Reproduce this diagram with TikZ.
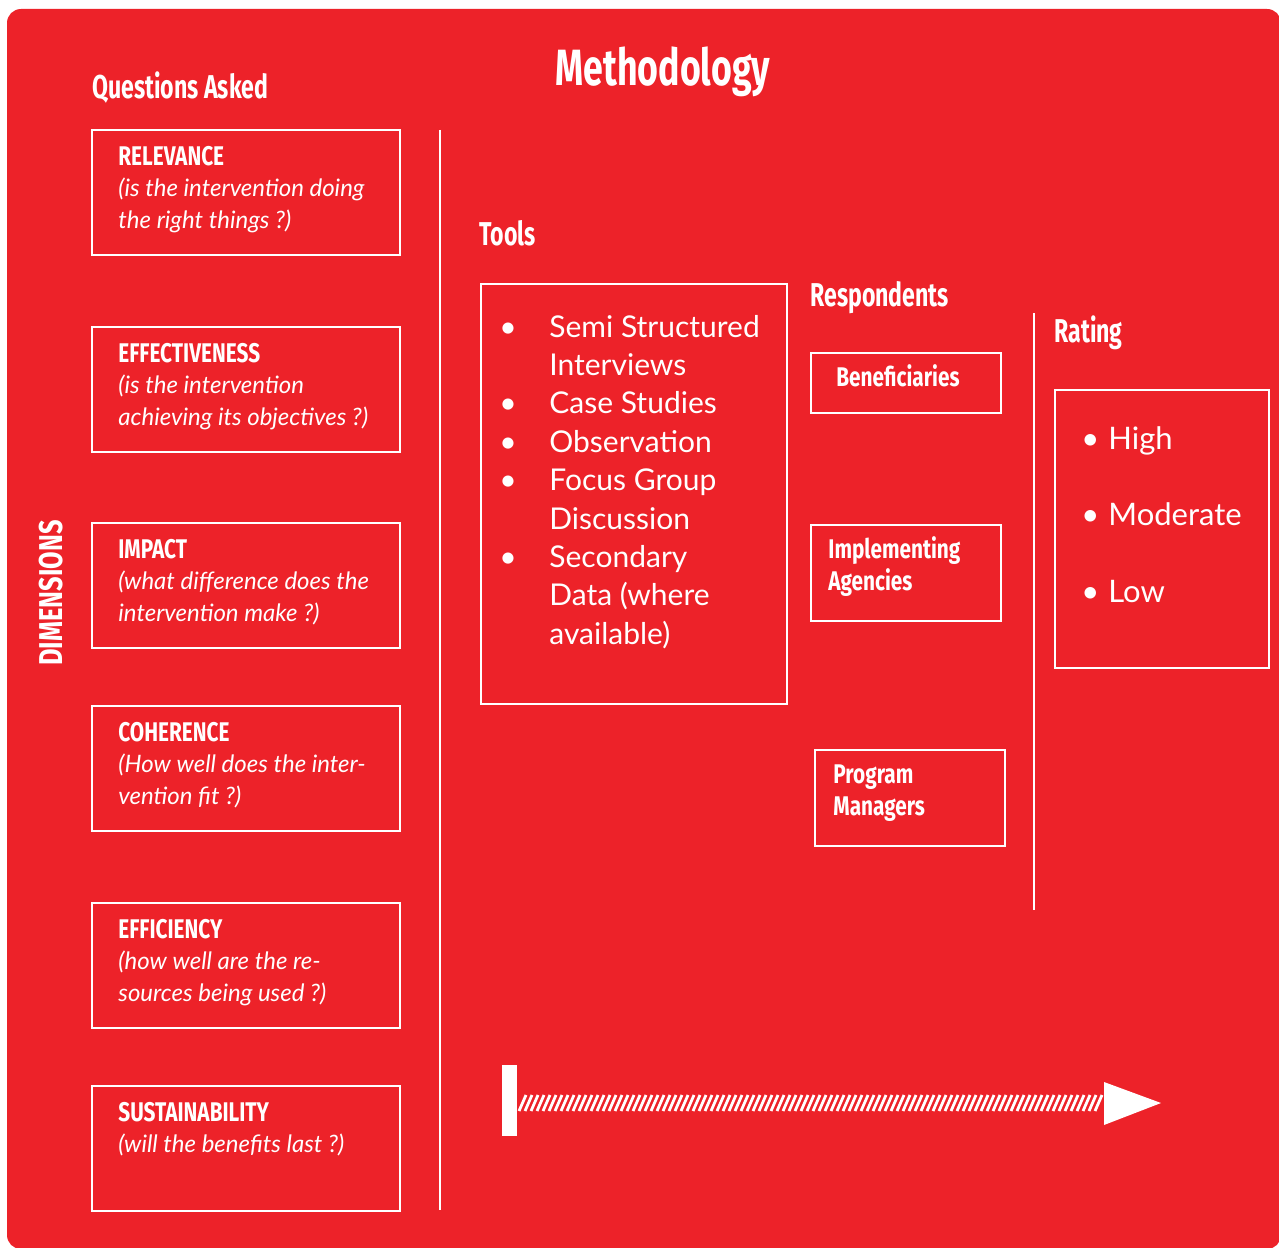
\documentclass[tikz,border=0pt]{standalone}
\usepackage{fontspec}
\usepackage{tikz}
\setmainfont{Lato}
\newfontfamily\headfont[FakeStretch=0.7]{Fira Sans}
\newfontfamily\titlefont[FakeStretch=0.77]{Fira Sans}
\usetikzlibrary{calc}
\definecolor{methred}{RGB}{237,34,41}

\tikzset{
  wbox/.style={draw=white, line width=1pt},
  wline/.style={draw=white, line width=1.3pt},
  head/.style={text=white, inner sep=0pt, anchor=base west, font=\headfont\bfseries\fontsize{16.5}{18}\selectfont},
  dimtitle/.style={text=white, inner sep=0pt, anchor=base west, font=\titlefont\bfseries\fontsize{13.5}{15}\selectfont},
  dimtext/.style={text=white, inner sep=0pt, anchor=base west, font=\itshape\fontsize{12}{14}\selectfont},
  resptext/.style={text=white, inner sep=0pt, anchor=base west, font=\titlefont\bfseries\fontsize{13.5}{15}\selectfont},
  tooltext/.style={text=white, inner sep=0pt, anchor=base west, font=\fontsize{15}{18}\selectfont},
}

\begin{document}
\begin{tikzpicture}[x=0.5pt, y=-0.5pt]
        \useasboundingbox (0,0) rectangle (1279,1247);
        \fill[methred, rounded corners=7pt] (7,9) rectangle (1281,1249);

        \node[head, anchor=base, font=\headfont\bfseries\fontsize{25.5}{28}\selectfont] (title) at (663,86) {Methodology};
        \node[head] (questions) at (92,98) {Questions Asked};
        \node[head, rotate=90, anchor=base, font=\titlefont\bfseries\fontsize{16.5}{18}\selectfont] (dimensions) at (62,593) {DIMENSIONS};

        \foreach \y/\name/\ttl/\la/\lb in {
            130/relevance/RELEVANCE/{(is the intervention doing}/{the right things ?)},
            327/effectiveness/EFFECTIVENESS/{(is the intervention}/{achieving its objectives ?)},
            523/impact/IMPACT/{(what difference does the}/{intervention make ?)},
            706/coherence/COHERENCE/{(How well does the inter-}/{vention fit ?)},
            903/efficiency/EFFICIENCY/{(how well are the re-}/{sources being used ?)},
            1086/sustainability/SUSTAINABILITY/{(will the benefits last ?)}/{}}{
            \draw[wbox] (92,\y) rectangle (400,\y+125);
            \node[dimtitle] (\name) at (118,\y+35) {\ttl};
            \node[dimtext] (\name-a) at (118,\y+66) {\la};
            \node[dimtext] (\name-b) at (118,\y+98) {\lb};
        }

        \draw[wline] (440,130) -- (440,1210);
        \draw[wline] (1034,313) -- (1034,910);

        \node[head] (tools) at (479,245) {Tools};
        \draw[wbox] (481,284) rectangle (787,704);
        \foreach \i/\b/\t in {0/1/Semi Structured, 1/0/Interviews, 2/1/Case Studies, 3/1/Observation,
            4/1/Focus Group, 5/0/Discussion, 6/1/Secondary, 7/0/Data (where, 8/0/available)}{
            \node[tooltext] (tool-\i) at (549,337+38.4*\i) {\t};
            \ifnum\b=1
              \node[tooltext] (bullet-\i) at (499,337+38.4*\i) {•};
            \fi
        }

        \node[head] (respondents) at (810,306) {Respondents};
        \draw[wbox] (811,353) rectangle (1001,413);
        \node[resptext] (benef) at (836,386) {Beneficiaries};
        \draw[wbox] (811,525) rectangle (1001,621);
        \node[resptext] (impl-a) at (828,558) {Implementing};
        \node[resptext] (impl-b) at (828,590) {Agencies};
        \draw[wbox] (815,750) rectangle (1005,846);
        \node[resptext] (prog-a) at (833,783) {Program};
        \node[resptext] (prog-b) at (833,815) {Managers};

        \node[head] (rating) at (1054,342) {Rating};
        \draw[wbox] (1055,390) rectangle (1269,668);
        \foreach \i/\t in {0/High, 1/Moderate, 2/Low}{
            \node[tooltext, font=\fontsize{15.5}{18}\selectfont] (rate-\i) at (1108,449+76.5*\i) {\t};
            \node[tooltext, font=\fontsize{15.5}{18}\selectfont] (rbullet-\i) at (1081,449+76.5*\i) {•};
        }

        \coordinate (arrstart) at (517,1103);
        \coordinate (arrend) at (1104,1103);
        \fill[white] (502,1065) rectangle (517,1136);
        \foreach \x in {519,525,...,1098}
            \draw[white, line width=1.4pt] (\x,1111) -- (\x+7,1095);
        \fill[white] (arrend) ++(0,-21) -- (1161,1103) -- (1104,1125) -- cycle;
\end{tikzpicture}
\end{document}
